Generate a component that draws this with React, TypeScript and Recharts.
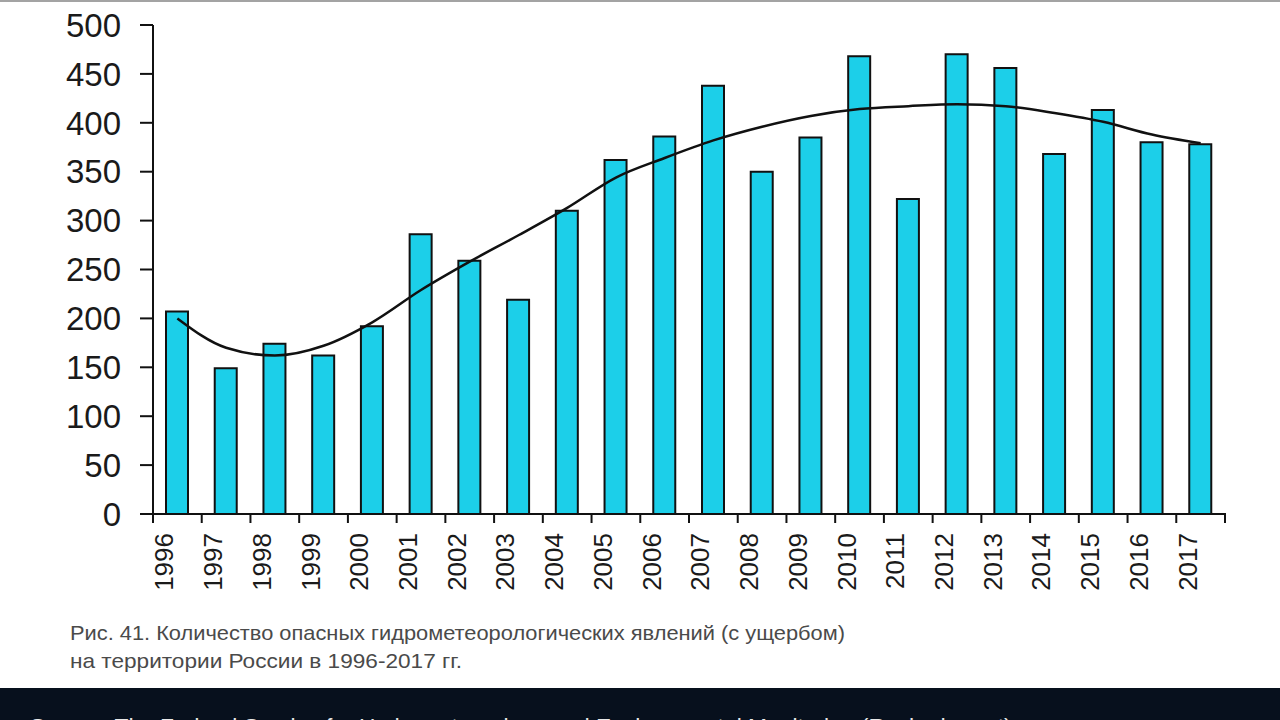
import React from "react";
import { ComposedChart, Bar, Line, XAxis, YAxis } from "recharts";

const years = ["1996","1997","1998","1999","2000","2001","2002","2003","2004","2005","2006","2007","2008","2009","2010","2011","2012","2013","2014","2015","2016","2017"];
const counts = [207,149,174,162,192,286,259,219,310,362,386,438,350,385,468,322,470,456,368,413,380,378];
const trendValues = [200,170,162,172,196,229,258,285,313,344,364,382,396,407,414,417,419,417,410,401,388,379];
const yTicks = [0,50,100,150,200,250,300,350,400,450,500];
const captionLines = [
  "Рис. 41. Количество опасных гидрометеорологических явлений (с ущербом)",
  "на территории России в 1996-2017 гг.",
];
const captionWidths = [775, 392];
const sourceText = "Source: The Federal Service for Hydrometeorology and Environmental Monitoring (Roshydromet)";

const data = years.map((y, i) => ({ year: y, count: counts[i], trend: trendValues[i] }));

const CHART_W = 1280;
const CHART_H = 610;
const M_LEFT = 0;
const Y_W = 153;
const M_RIGHT = 55;
const PLOT_W = CHART_W - M_LEFT - Y_W - M_RIGHT;
const HALF_BAND = PLOT_W / years.length / 2;

const XTick = (props: any) => {
  const { x, y, payload, index } = props;
  const half = HALF_BAND;
  const isLast = index === years.length - 1;
  return (
    <g>
      <line x1={x - half} y1={y - 9} x2={x - half} y2={y + 1} stroke="#111" strokeWidth={2} />
      {isLast && <line x1={x + half} y1={y - 9} x2={x + half} y2={y + 1} stroke="#111" strokeWidth={2} />}
      <g transform={`translate(${x},${y})`}>
        <text
          transform="rotate(-90)"
          x={-11}
          y={-4}
          textAnchor="end"
          fontSize={26}
          fontFamily="'Liberation Sans', Arial, sans-serif"
          fill="#1a1a1a"
        >
          {payload.value}
        </text>
      </g>
    </g>
  );
};

export default function App() {
  return (
    <div style={{ position: "absolute", left: 0, top: 0, width: 1280, height: 720, background: "#ffffff", overflow: "hidden" }}>
      <div style={{ position: "absolute", left: 0, top: 0, width: 1280, height: 2, background: "#a3a3a3" }} />
      <div style={{ position: "absolute", left: 0, top: 0 }}>
        <ComposedChart width={CHART_W} height={CHART_H} data={data} margin={{ top: 25, right: M_RIGHT, left: M_LEFT, bottom: 0 }}>
          <YAxis
            width={Y_W}
            domain={[0, 500]}
            ticks={yTicks}
            interval={0}
            axisLine={{ stroke: "#111", strokeWidth: 2 }}
            tickLine={{ stroke: "#111", strokeWidth: 2 }}
            tickSize={13}
            tickMargin={19}
            tick={{ fontSize: 33, fill: "#1a1a1a", fontFamily: "'Liberation Sans', Arial, sans-serif" }}
          />
          <XAxis
            dataKey="year"
            interval={0}
            height={96}
            axisLine={{ stroke: "#111", strokeWidth: 2 }}
            tickLine={false}
            tick={<XTick />}
          />
          <Bar dataKey="count" barSize={22} fill="#1ccfe9" stroke="#111" strokeWidth={2} isAnimationActive={false} />
          <Line dataKey="trend" type="monotone" stroke="#111" strokeWidth={2.5} dot={false} isAnimationActive={false} />
        </ComposedChart>
      </div>
      <svg style={{ position: "absolute", left: 0, top: 610 }} width={1280} height={70}>
        {captionLines.map((l, i) => (
          <text
            key={i}
            x={70}
            y={30 + i * 28}
            textLength={captionWidths[i]}
            lengthAdjust="spacingAndGlyphs"
            fontSize={21}
            fontFamily="'Liberation Sans', Arial, sans-serif"
            fill="#4a4a4a"
          >
            {l}
          </text>
        ))}
      </svg>
      <div style={{ position: "absolute", left: 0, top: 688, width: 1280, height: 32, background: "#07101d", overflow: "hidden" }}>
        <div
          style={{
            position: "absolute",
            left: 30,
            top: 25,
            fontFamily: "'Liberation Sans', Arial, sans-serif",
            fontSize: 22.8,
            color: "#e8e8e8",
            whiteSpace: "nowrap",
          }}
        >
          {sourceText}
        </div>
      </div>
    </div>
  );
}
